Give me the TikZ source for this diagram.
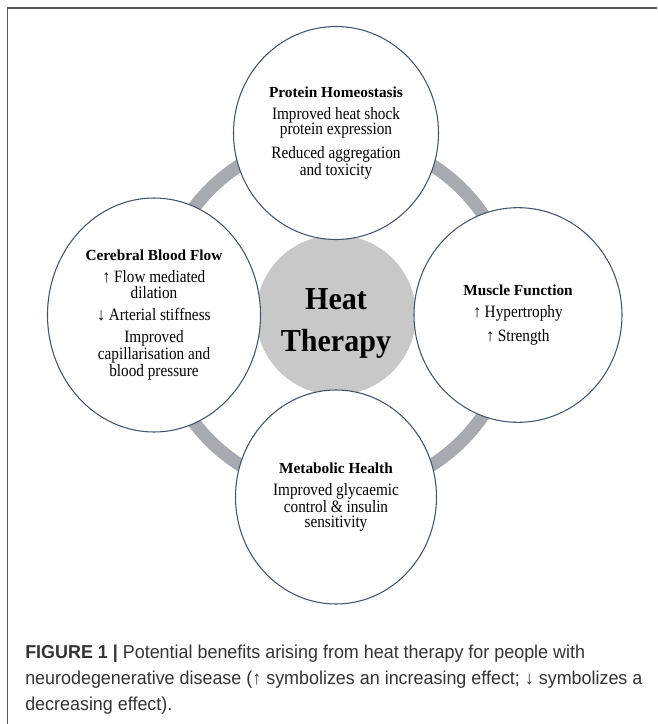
\documentclass[tikz,border=0pt]{standalone}
\usepackage{fontspec}
\setmainfont{Liberation Serif}
\newfontfamily\bodyfont{Liberation Serif}[FakeStretch=0.88]
\newfontfamily\hubfont{Liberation Serif}[FakeStretch=0.94]
\newfontfamily\capfont{Liberation Sans}[FakeStretch=0.96]
\usepackage{tikz}
\usetikzlibrary{positioning,shapes.geometric}
\definecolor{rim}{HTML}{44546A}
\definecolor{band}{HTML}{A7ABB1}
\definecolor{hubgray}{HTML}{C8C8C8}
\definecolor{captext}{HTML}{333333}
\newcommand\headline[1]{{\rmfamily\bfseries\fontsize{11.5}{11.6}\selectfont #1}}
\tikzset{node distance=136.5pt, auto}
\tikzset{
  benefit/.style={ellipse, draw=rim, line width=0.8pt, fill=white, inner sep=0pt,
    align=center, font=\bodyfont\fontsize{13}{11.6}\selectfont},
  hub/.style={circle, fill=hubgray, minimum size=120pt, inner sep=0pt},
  hubtext/.style={align=center, inner sep=0pt, font=\hubfont\bfseries\fontsize{24}{31.5}\selectfont},
  ring/.style={draw=band, line width=9.75pt},
  frame/.style={draw=black!65, line width=1.1pt},
  legend/.style={anchor=north west, inner sep=0pt, align=left, text=captext,
    font=\capfont\fontsize{14}{19.5}\selectfont}
}

\begin{document}
\begin{tikzpicture}[x=0.75pt, y=-0.75pt]
      \useasboundingbox (0,0) rectangle (657,724);
      \draw[frame] (7.5,724) -- (7.5,8) -- (657,8);

      \coordinate (O) at (336,315);
      \draw[ring] (O) circle[radius=133.5pt];

      \node (HT) [hub] at (O) {};
      \node (HTT) [hubtext] at ([yshift=-6pt]HT.center) {Heat\\Therapy};
      \node (PH) [benefit, above of=HT, minimum width=153.75pt, minimum height=159.75pt]
        {\headline{Protein Homeostasis}\\[5pt] Improved heat shock\\ protein expression\\[5pt]
         Reduced aggregation\\ and toxicity};
      \node (CBF) [benefit, left of=HT, minimum width=159.75pt, minimum height=175.5pt]
        {\headline{Cerebral Blood Flow}\\[5pt] ↑ Flow mediated\\ dilation\\[5pt]
         ↓ Arterial stiffness\\[5pt] Improved\\ capillarisation and\\ blood pressure};
      \node (MF) [benefit, right of=HT, minimum width=156pt, minimum height=161pt]
        {\headline{Muscle Function}\\[5pt] ↑ Hypertrophy\\[5pt] ↑ Strength};
      \node (MH) [benefit, below of=HT, minimum width=150.75pt, minimum height=160.5pt]
        {\headline{Metabolic Health}\\[5pt] Improved glycaemic\\ control \& insulin\\ sensitivity};

      \node (CAP) [legend] at (25,645)
        {\textbf{FIGURE 1 |} Potential benefits arising from heat therapy for people with\\
         neurodegenerative disease (↑ symbolizes an increasing effect; ↓ symbolizes a\\
         decreasing effect).};
\end{tikzpicture}
\end{document}
